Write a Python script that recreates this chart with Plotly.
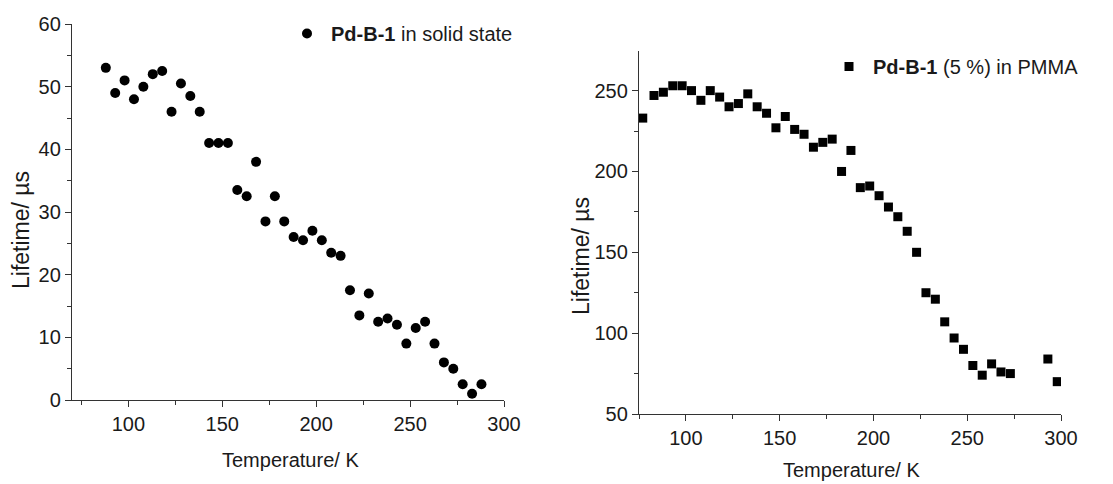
import plotly.graph_objects as go

# Left panel: Pd-B-1 in solid state
temp_solid = [88, 93, 98, 103, 108, 113, 118, 123, 128, 133, 138, 143, 148, 153,
              158, 163, 168, 173, 178, 183, 188, 193, 198, 203, 208, 213, 218, 223,
              228, 233, 238, 243, 248, 253, 258, 263, 268, 273, 278, 283, 288]
life_solid = [53.0, 49.0, 51.0, 48.0, 50.0, 52.0, 52.5, 46.0, 50.5, 48.5, 46.0,
              41.0, 41.0, 41.0, 33.5, 32.5, 38.0, 28.5, 32.5, 28.5, 26.0, 25.5,
              27.0, 25.5, 23.5, 23.0, 17.5, 13.5, 17.0, 12.5, 13.0, 12.0, 9.0,
              11.5, 12.5, 9.0, 6.0, 5.0, 2.5, 1.0, 2.5]

# Right panel: Pd-B-1 (5 %) in PMMA
temp_pmma = [77, 83, 88, 93, 98, 103, 108, 113, 118, 123, 128, 133, 138, 143, 148,
             153, 158, 163, 168, 173, 178, 183, 188, 193, 198, 203, 208, 213, 218,
             223, 228, 233, 238, 243, 248, 253, 258, 263, 268, 273, 293, 298]
life_pmma = [233, 247, 249, 253, 253, 250, 244, 250, 246, 240, 242, 248, 240, 236,
             227, 234, 226, 223, 215, 218, 220, 200, 213, 190, 191, 185, 178, 172,
             163, 150, 125, 121, 107, 97, 90, 80, 74, 81, 76, 75, 84, 70]

x_ticks = [100, 150, 200, 250, 300]
y_ticks_solid = [0, 10, 20, 30, 40, 50, 60]
y_ticks_pmma = [50, 100, 150, 200, 250]

name_solid = "<b>Pd-B-1</b> in solid state"
name_pmma = "<b>Pd-B-1</b> (5 %) in PMMA"
x_title = "Temperature/ K"
y_title = "Lifetime/ \u00b5s"

FONT = "Liberation Sans, Arial, sans-serif"
INK = "#1a1a1a"
W, H = 1113, 484

fig = go.Figure()
fig.add_trace(go.Scatter(x=temp_solid, y=life_solid, mode="markers", name=name_solid,
                         marker=dict(symbol="circle", size=10, color="black"),
                         xaxis="x", yaxis="y", legend="legend"))
fig.add_trace(go.Scatter(x=temp_pmma, y=life_pmma, mode="markers", name=name_pmma,
                         marker=dict(symbol="square", size=9, color="black"),
                         xaxis="x2", yaxis="y2", legend="legend2"))

axis_common = dict(showline=True, linecolor="#333", linewidth=1.3, ticks="outside",
                   ticklen=6, tickwidth=1.2, tickcolor="#333", showgrid=False,
                   zeroline=False, mirror=False, automargin=False,
                   tickfont=dict(family=FONT, size=20, color=INK))
minor_common = dict(ticks="outside", ticklen=4, tickcolor="#333", tickwidth=1.1)

fig.update_layout(
    width=W, height=H,
    margin=dict(l=0, r=0, t=0, b=0, autoexpand=False),
    paper_bgcolor="white", plot_bgcolor="white",
    font=dict(family=FONT, color=INK),
    xaxis=dict(domain=[72 / W, 504 / W], range=[70, 300], tickvals=x_ticks,
               minor=dict(dtick=25, tick0=75, **minor_common),
               anchor="y", **axis_common),
    yaxis=dict(domain=[1 - 400 / H, 1 - 24 / H], range=[0, 60], tickvals=y_ticks_solid,
               minor=dict(dtick=5, tick0=0, **minor_common),
               anchor="x", **axis_common),
    xaxis2=dict(domain=[639 / W, 1061 / W], range=[75, 300], tickvals=x_ticks,
                minor=dict(dtick=25, tick0=75, **minor_common),
                anchor="y2", **axis_common),
    yaxis2=dict(domain=[1 - 414 / H, 1 - 51 / H], range=[50, 274.5], tickvals=y_ticks_pmma,
                minor=dict(dtick=25, tick0=50, **minor_common),
                anchor="x2", **axis_common),
    legend=dict(x=283 / W, y=1 - 14 / H, xanchor="left", yanchor="top", itemwidth=38,
                bgcolor="rgba(0,0,0,0)", font=dict(family=FONT, size=20, color=INK)),
    legend2=dict(x=825 / W, y=1 - 47 / H, xanchor="left", yanchor="top", itemwidth=38,
                 bgcolor="rgba(0,0,0,0)", font=dict(family=FONT, size=20, color=INK)),
    showlegend=True,
)

annotations = [
    dict(text=x_title, x=290 / W, y=1 - 460 / H, xref="paper", yref="paper",
         xanchor="center", yanchor="middle",
         showarrow=False, font=dict(family=FONT, size=20, color=INK)),
    dict(text=x_title, x=851 / W, y=1 - 470 / H, xref="paper", yref="paper",
         xanchor="center", yanchor="middle",
         showarrow=False, font=dict(family=FONT, size=20, color=INK)),
    dict(text=y_title, x=21 / W, y=1 - 230 / H, xref="paper", yref="paper",
         xanchor="center", yanchor="middle",
         textangle=-90, showarrow=False, font=dict(family=FONT, size=23, color=INK)),
    dict(text=y_title, x=581 / W, y=1 - 256 / H, xref="paper", yref="paper",
         xanchor="center", yanchor="middle",
         textangle=-90, showarrow=False, font=dict(family=FONT, size=23, color=INK)),
]
fig.update_layout(annotations=annotations)

# remove the page's default 8px body margin so the figure sits at the window origin
fig.write_html("out.html", config={"displayModeBar": False},
               post_script="document.body.style.margin='0px';")
